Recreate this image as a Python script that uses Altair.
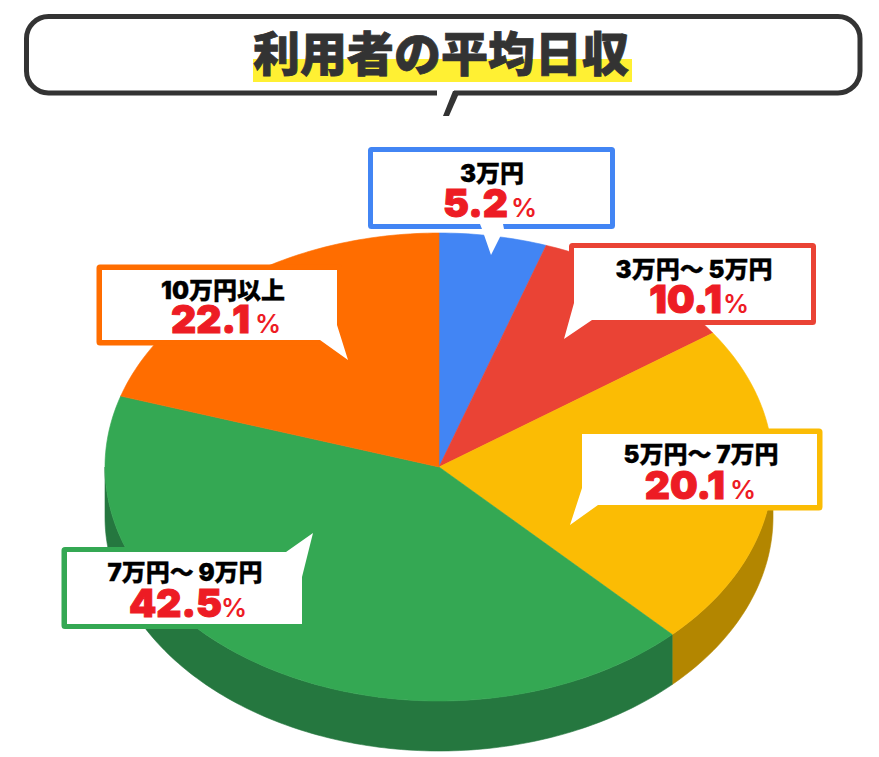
import math
import altair as alt
import pandas as pd

# ---- values ----
categories = ["3万円", "3万円〜 5万円", "5万円〜 7万円", "7万円〜 9万円", "10万円以上"]
labelled_values = ["5.2", "10.1", "20.1", "42.5", "22.1"]
drawn_shares = [5.2, 10.1, 22.4, 42.2, 20.1]
colors = ["#4285F4", "#EA4335", "#FBBC04", "#34A853", "#FF6D00"]
side_colors = ["#2E5DAA", "#A32F25", "#B38600", "#25773F", "#B24C00"]
title_text = "利用者の平均日収"

# ---- layout ----
X0, X1, Y0, Y1 = 8, 871, 8, 752
CX, CY, RX, RY, DEPTH = 439, 467, 334, 234, 50
FONT = "Noto Sans CJK JP"
NUMFONT = "Inter, Noto Sans CJK JP"
xs = alt.Scale(domain=[X0, X1], range=[0, X1 - X0], nice=False, zero=False)
ys = alt.Scale(domain=[Y0, Y1], range=[0, Y1 - Y0], nice=False, zero=False)


def X(f="x"):
    return alt.X(f"{f}:Q", scale=xs, axis=None)


def Y(f="y"):
    return alt.Y(f"{f}:Q", scale=ys, axis=None)


def poly(pts, color, sw=0.6):
    df = pd.DataFrame(pts, columns=["x", "y"])
    df["o"] = range(len(df))
    return alt.Chart(df).mark_line(
        interpolate="linear-closed", fill=color, stroke=color, strokeWidth=sw
    ).encode(x=X(), y=Y(), order="o:Q")


def pt(a, dy=0):
    r = math.radians(a)
    return (CX + RX * math.sin(r), CY - RY * math.cos(r) + dy)


def sweep(a0, a1, dy=0):
    n = max(2, int(abs(a1 - a0)) + 2)
    return [pt(a0 + (a1 - a0) * i / (n - 1), dy) for i in range(n)]


def rect(x0, x1, y0, y1, **kw):
    df = pd.DataFrame({"x": [x0], "x2": [x1], "y": [y0], "y2": [y1]})
    return alt.Chart(df).mark_rect(**kw).encode(x=X(), x2="x2:Q", y=Y(), y2="y2:Q")


def text(s, x, y, size, color, align="center", weight=900, sw=0.0, font=FONT):
    df = pd.DataFrame({"x": [x], "y": [y], "t": [s]})
    kw = {"stroke": color, "strokeWidth": sw} if sw else {}
    return alt.Chart(df).mark_text(
        font=font, fontSize=size, fontWeight=weight, color=color, align=align,
        baseline="alphabetic", **kw
    ).encode(x=X(), y=Y(), text="t:N")


layers = []

# title box
layers.append(rect(26.5, 860, 16.5, 93, fill="white", stroke="#333333", strokeWidth=5, cornerRadius=22))
layers.append(rect(437, 454, 89, 97, fill="white"))
layers.append(poly([(453, 91), (460, 91), (449, 116), (443, 116)], "#333333", 0))
layers.append(rect(253, 632, 59, 82, fill="#FFF033"))
layers.append(text(title_text, 441, 71, 47, "#333333", sw=0.8))

# pie walls and top
start = 0.0
spans = []
for share in drawn_shares:
    spans.append((start, start + share * 3.6))
    start += share * 3.6

for (a0, a1), c in zip(spans, side_colors):
    lo, hi = max(a0, 90), min(a1, 270)
    if hi > lo:
        layers.append(poly(sweep(lo, hi) + sweep(hi, lo, DEPTH), c))
for (a0, a1), c in zip(spans, colors):
    layers.append(poly([(CX, CY)] + sweep(a0, a1), c))

# callouts: frame, white body with pointer, texts
callouts = [
    dict(frame=(370.5, 612.5, 149.5, 226.5),
         body=[(373, 152), (610, 152), (610, 224), (503, 224), (504, 229), (491, 255), (482, 229), (480, 224), (373, 224)],
         cat=(492, 182), num=(508, 217), pct=(511, 217)),
    dict(frame=(571.5, 813.5, 245.5, 322.5),
         body=[(574, 248), (811, 248), (811, 320), (592, 320), (564, 339), (574, 303)],
         cat=(694, 278), num=(722, 313), pct=(723, 313)),
    dict(frame=(579.5, 820, 431, 508),
         body=[(582, 434), (817, 434), (817, 505), (598, 505), (570, 525), (582, 488)],
         cat=(701, 463), num=(725, 499), pct=(730, 499)),
    dict(frame=(64, 304.5, 549.5, 626.5),
         body=[(67, 552), (286, 552), (313, 533), (302, 577), (302, 624), (67, 624)],
         cat=(185, 581), num=(222, 617), pct=(221, 617)),
    dict(frame=(99, 339.5, 267, 343),
         body=[(102, 270), (337, 270), (337, 325), (348, 360), (320, 340), (102, 340)],
         cat=(223, 299), num=(250, 333), pct=(255, 333)),
]
for c, cat, val, co in zip(colors, categories, labelled_values, callouts):
    x0, x1, y0, y1 = co["frame"]
    layers.append(rect(x0, x1, y0, y1, fill=c, stroke=c, strokeWidth=5, cornerRadius=1))
    layers.append(poly(co["body"], "white", 0))
    layers.append(text(cat, *co["cat"], 24, "#000000", sw=0.3, font=NUMFONT))
    layers.append(text(val, *co["num"], 39, "#ED1C24", align="right", sw=1.0, font=NUMFONT))
    layers.append(text("%", *co["pct"], 26, "#ED1C24", align="left", weight=600, font=NUMFONT))

chart = alt.layer(*layers).properties(
    width=X1 - X0, height=Y1 - Y0,
    padding=0, autosize=alt.AutoSizeParams(type="none")
).configure_view(stroke=None)

chart.save("out.html", embed_options={"renderer": "svg", "actions": False})
